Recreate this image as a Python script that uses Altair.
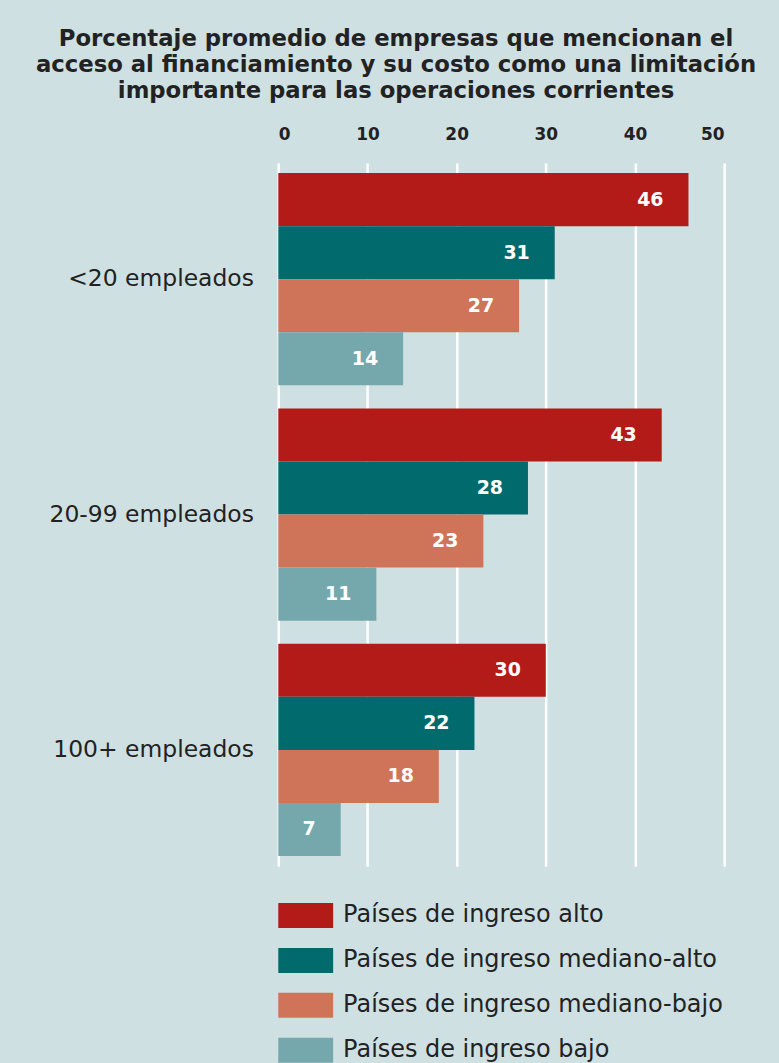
import altair as alt
import pandas as pd

groups = ["<20 empleados", "20-99 empleados", "100+ empleados"]
series = [
    "Países de ingreso alto",
    "Países de ingreso mediano-alto",
    "Países de ingreso mediano-bajo",
    "Países de ingreso bajo",
]
alto = [46, 43, 30]
mediano_alto = [31, 28, 22]
mediano_bajo = [27, 23, 18]
bajo = [14, 11, 7]
colors = ["#b21b17", "#006a6c", "#cf7458", "#74a8ac"]
ticks = [0, 10, 20, 30, 40, 50]
title_lines = [
    "Porcentaje promedio de empresas que mencionan el",
    "acceso al financiamiento y su costo como una limitación",
    "importante para las operaciones corrientes",
]

FONT = "DejaVu Sans"
BG = "#cfe0e3"
TXT = "#222222"

rows = []
for s, vals in zip(series, [alto, mediano_alto, mediano_bajo, bajo]):
    for g, v in zip(groups, vals):
        rows.append({"group": g, "series": s, "value": v})
df = pd.DataFrame(rows)
legdf = pd.DataFrame({"series": series})

color = alt.Color("series:N", scale=alt.Scale(domain=series, range=colors), legend=None)

base = alt.Chart(df).encode(
    y=alt.Y(
        "group:N",
        sort=groups,
        scale=alt.Scale(paddingInner=0.098, paddingOuter=0.043),
        axis=alt.Axis(
            title=None, labelFontSize=23.5, labelPadding=25, ticks=False, domain=False,
            labelColor=TXT, labelFont=FONT, labelLimit=400,
        ),
    ),
    yOffset=alt.YOffset("series:N", sort=series, scale=alt.Scale(paddingInner=0, paddingOuter=0)),
)

xenc = alt.X(
    "value:Q",
    scale=alt.Scale(domain=[0, 50], nice=False),
    axis=alt.Axis(
        orient="top", values=ticks, grid=True, gridColor="white", gridWidth=2.5,
        domain=False, ticks=False, labelFontSize=17, labelFontWeight="bold",
        labelPadding=20, labelColor=TXT, labelFont=FONT, title=None,
    ),
)

bars = base.mark_bar().encode(x=xenc, color=color)
labels = base.mark_text(
    align="right", dx=-25, color="white", fontSize=19, font=FONT, fontWeight="bold"
).encode(x=alt.X("value:Q"), text=alt.Text("value:Q"))

main = (bars + labels).properties(width=447, height=705)

leg = alt.Chart(legdf).encode(
    y=alt.Y("series:N", sort=series, axis=None,
            scale=alt.Scale(paddingInner=0.444, paddingOuter=0.0666, align=1)),
)
leg_rect = leg.mark_rect().encode(x=alt.value(0), x2=alt.value(55), color=color)
leg_text = leg.mark_text(align="left", fontSize=24, font=FONT, color=TXT).encode(
    x=alt.value(65), text="series:N"
)
legend = (leg_rect + leg_text).properties(width=447, height=166)

chart = (
    alt.vconcat(main, legend, spacing=31, bounds="flush")
    .properties(
        title=alt.TitleParams(
            text=title_lines, fontSize=22.8, fontWeight="bold", lineHeight=26,
            anchor="start", align="center", dx=348, color=TXT, font=FONT, offset=22,
        ),
        padding={"left": 35, "top": 27, "right": 22, "bottom": 0},
    )
    .configure(background=BG)
    .configure_view(stroke=None)
)

chart.save("out.html", embed_options={"renderer": "svg", "actions": False})
